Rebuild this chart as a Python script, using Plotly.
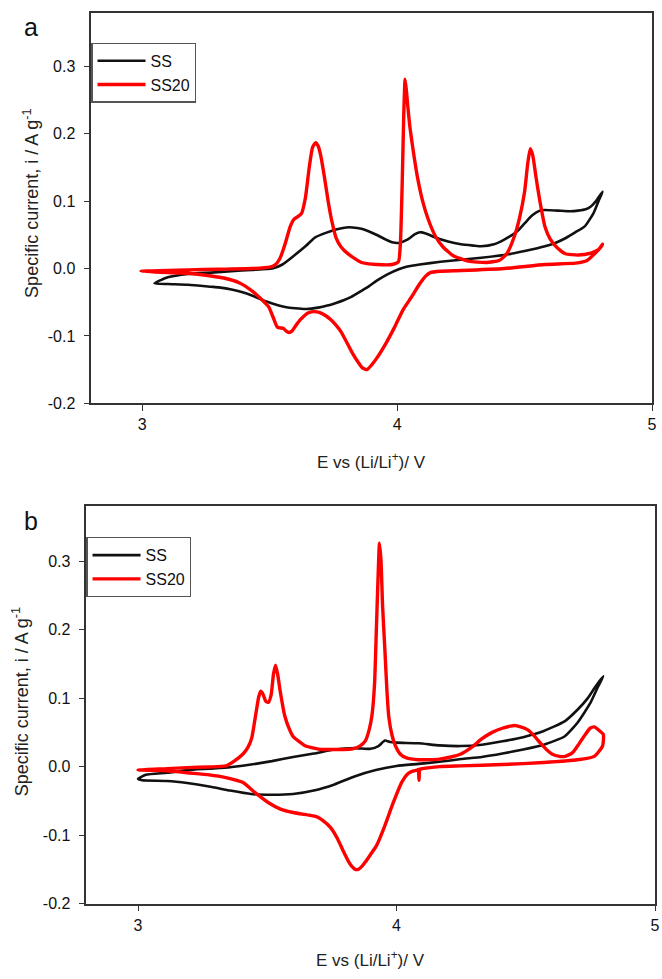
import plotly.graph_objects as go

# ---------------- Panel a : cyclic voltammograms ----------------
# SS, anodic sweep (3.0 -> 4.8 V)
a_ss_up_E = [3.048, 3.10, 3.18, 3.27, 3.35, 3.43, 3.51, 3.55, 3.595, 3.64, 3.677, 3.72, 3.76, 3.80,
             3.825, 3.86, 3.89, 3.925, 3.956, 3.98, 4.006, 4.04, 4.07, 4.09, 4.12, 4.15, 4.20, 4.25,
             4.30, 4.33, 4.38, 4.42, 4.47, 4.50, 4.53, 4.56, 4.58, 4.63, 4.68, 4.71, 4.74, 4.76, 4.78, 4.806]
a_ss_up_i = [-0.022, -0.013, -0.008, -0.006, -0.004, -0.002, 0.000, 0.006, 0.019, 0.033, 0.046, 0.053,
             0.058, 0.061, 0.061, 0.059, 0.055, 0.049, 0.043, 0.039, 0.038, 0.043, 0.051, 0.054, 0.051,
             0.046, 0.040, 0.036, 0.034, 0.033, 0.036, 0.043, 0.055, 0.067, 0.079, 0.086, 0.087, 0.086,
             0.085, 0.086, 0.088, 0.092, 0.100, 0.114]
# SS, cathodic sweep (4.8 -> 3.0 V)
a_ss_down_E = [4.79, 4.77, 4.737, 4.70, 4.66, 4.62, 4.58, 4.50, 4.42, 4.33, 4.25, 4.17, 4.088, 4.04,
               4.006, 3.96, 3.92, 3.89, 3.86, 3.82, 3.79, 3.76, 3.726, 3.69, 3.644, 3.60, 3.56, 3.52,
               3.496, 3.46, 3.43, 3.39, 3.35, 3.30, 3.27, 3.18, 3.10, 3.048]
a_ss_down_i = [0.100, 0.082, 0.063, 0.054, 0.045, 0.038, 0.033, 0.026, 0.020, 0.016, 0.013, 0.010,
               0.006, 0.003, -0.001, -0.009, -0.018, -0.026, -0.033, -0.042, -0.047, -0.051, -0.055,
               -0.058, -0.060, -0.059, -0.057, -0.053, -0.050, -0.045, -0.040, -0.035, -0.031, -0.028,
               -0.027, -0.024, -0.023, -0.022]

# SS20, anodic sweep
a_ss20_up_E = [2.995, 3.10, 3.18, 3.30, 3.43, 3.50, 3.52, 3.54, 3.56, 3.58, 3.595, 3.61, 3.625, 3.64,
               3.655, 3.668, 3.68, 3.69, 3.70, 3.715, 3.73, 3.745, 3.76, 3.78, 3.81, 3.86, 3.92, 3.98,
               4.005, 4.013, 4.02, 4.026, 4.031, 4.036, 4.042, 4.05, 4.063, 4.08, 4.10, 4.12, 4.15, 4.18,
               4.22, 4.28, 4.35, 4.40, 4.43, 4.46, 4.48, 4.50, 4.512, 4.522, 4.532, 4.545, 4.56, 4.58,
               4.60, 4.63, 4.66, 4.71, 4.76, 4.79, 4.806]
a_ss20_up_i = [-0.004, -0.003, -0.002, -0.001, 0.000, 0.002, 0.005, 0.015, 0.036, 0.062, 0.073, 0.077,
               0.082, 0.105, 0.150, 0.180, 0.187, 0.182, 0.168, 0.135, 0.098, 0.068, 0.046, 0.032,
               0.021, 0.009, 0.006, 0.006, 0.010, 0.040, 0.130, 0.230, 0.281, 0.265, 0.240, 0.210,
               0.175, 0.135, 0.100, 0.075, 0.048, 0.032, 0.019, 0.011, 0.009, 0.012, 0.022, 0.048,
               0.075, 0.114, 0.155, 0.178, 0.168, 0.135, 0.100, 0.062, 0.044, 0.030, 0.022, 0.020,
               0.023, 0.028, 0.036]
# SS20, cathodic sweep
a_ss20_down_E = [4.795, 4.78, 4.745, 4.70, 4.58, 4.42, 4.25, 4.17, 4.13, 4.11, 4.088, 4.055, 4.022,
                 3.99, 3.956, 3.92, 3.90, 3.882, 3.865, 3.845, 3.825, 3.80, 3.78, 3.76, 3.74, 3.72,
                 3.694, 3.67, 3.65, 3.636, 3.62, 3.60, 3.587, 3.575, 3.565, 3.554, 3.53, 3.513, 3.496,
                 3.46, 3.43, 3.38, 3.32, 3.27, 3.18, 3.10, 2.995]
a_ss20_down_i = [0.030, 0.024, 0.012, 0.008, 0.006, 0.000, -0.003, -0.004, -0.006, -0.012, -0.023,
                 -0.043, -0.062, -0.087, -0.111, -0.133, -0.143, -0.150, -0.148, -0.138, -0.126,
                 -0.108, -0.094, -0.084, -0.076, -0.070, -0.065, -0.064, -0.066, -0.070, -0.076,
                 -0.086, -0.093, -0.095, -0.093, -0.089, -0.087, -0.072, -0.057, -0.043, -0.033,
                 -0.021, -0.014, -0.011, -0.007, -0.006, -0.004]

# ---------------- Panel b : cyclic voltammograms ----------------
b_ss_up_E = [3.0, 3.03, 3.113, 3.19, 3.275, 3.356, 3.437, 3.518, 3.60, 3.68, 3.76, 3.84, 3.90, 3.93,
             3.955, 3.975, 4.0, 4.085, 4.166, 4.247, 4.33, 4.41, 4.49, 4.57, 4.65, 4.70, 4.74, 4.77, 4.80]
b_ss_up_i = [-0.018, -0.012, -0.009, -0.005, -0.003, -0.001, 0.003, 0.008, 0.014, 0.019, 0.025, 0.027,
             0.026, 0.030, 0.038, 0.036, 0.035, 0.034, 0.031, 0.030, 0.032, 0.037, 0.043, 0.052, 0.066,
             0.083, 0.100, 0.117, 0.132]
b_ss_down_E = [4.78, 4.75, 4.70, 4.65, 4.57, 4.49, 4.41, 4.33, 4.25, 4.166, 4.085, 4.0, 3.92, 3.84,
               3.76, 3.68, 3.60, 3.518, 3.437, 3.356, 3.275, 3.19, 3.113, 3.016, 3.0]
b_ss_down_i = [0.117, 0.093, 0.064, 0.044, 0.032, 0.025, 0.019, 0.014, 0.011, 0.007, 0.004, 0.001,
               -0.005, -0.014, -0.026, -0.035, -0.040, -0.041, -0.040, -0.035, -0.029, -0.024, -0.021,
               -0.020, -0.018]

b_ss20_up_E = [3.0, 3.113, 3.19, 3.275, 3.34, 3.372, 3.405, 3.425, 3.44, 3.457, 3.467, 3.475, 3.483,
               3.495, 3.505, 3.515, 3.524, 3.532, 3.54, 3.55, 3.567, 3.585, 3.60, 3.625, 3.648, 3.68,
               3.71, 3.75, 3.793, 3.83, 3.858, 3.88, 3.895, 3.905, 3.915, 3.922, 3.928, 3.934, 3.94,
               3.946, 3.955, 3.963, 3.97, 3.983, 3.996, 4.015, 4.036, 4.085, 4.166, 4.21, 4.247, 4.29,
               4.328, 4.37, 4.409, 4.44, 4.457, 4.48, 4.506, 4.53, 4.555, 4.58, 4.603, 4.63, 4.652,
               4.68, 4.70, 4.725, 4.749, 4.765, 4.78, 4.80]
b_ss20_up_i = [-0.005, -0.003, -0.0015, -0.0005, 0.001, 0.008, 0.018, 0.028, 0.042, 0.080, 0.102,
               0.110, 0.106, 0.095, 0.094, 0.105, 0.135, 0.148, 0.135, 0.110, 0.075, 0.055, 0.044,
               0.036, 0.030, 0.027, 0.025, 0.025, 0.025, 0.026, 0.030, 0.038, 0.055, 0.075, 0.121,
               0.200, 0.270, 0.326, 0.300, 0.235, 0.170, 0.110, 0.073, 0.045, 0.030, 0.018, 0.013,
               0.010, 0.011, 0.014, 0.018, 0.028, 0.040, 0.050, 0.056, 0.059, 0.060, 0.058, 0.054,
               0.046, 0.035, 0.025, 0.018, 0.015, 0.015, 0.020, 0.030, 0.044, 0.056, 0.058, 0.054, 0.047]
b_ss20_down_E = [4.797, 4.765, 4.70, 4.57, 4.41, 4.247, 4.166, 4.10, 4.09, 4.087, 4.084, 4.08, 4.06,
                 4.045, 4.02, 3.988, 3.955, 3.923, 3.90, 3.88, 3.865, 3.852, 3.84, 3.828, 3.815, 3.80,
                 3.785, 3.77, 3.745, 3.713, 3.69, 3.664, 3.6, 3.551, 3.502, 3.453, 3.405, 3.34, 3.275,
                 3.19, 3.113, 3.0]
b_ss20_down_i = [0.030, 0.015, 0.010, 0.006, 0.003, 0.001, 0.000, -0.003, -0.004, -0.020, -0.004,
                 -0.005, -0.007, -0.010, -0.023, -0.052, -0.086, -0.115, -0.128, -0.139, -0.146,
                 -0.150, -0.150, -0.146, -0.139, -0.128, -0.116, -0.104, -0.089, -0.078, -0.073,
                 -0.071, -0.067, -0.062, -0.052, -0.038, -0.023, -0.016, -0.012, -0.009, -0.006, -0.005]

# Axis ticks
x_tick_vals = [3, 4, 5]
x_tick_text = ["3", "4", "5"]
y_tick_vals = [-0.2, -0.1, 0.0, 0.1, 0.2, 0.3]
y_tick_text = ["-0.2", "-0.1", "0.0", "0.1", "0.2", "0.3"]

FONT = "Liberation Sans, Arial, sans-serif"
W, H = 662, 979
SS_COLOR = "#111111"
SS20_COLOR = "#ff0000"


def px_x(p):
    return p / W


def px_y(p):
    return (H - p) / H


fig = go.Figure()

panels = [
    ("x", "y", "legend", a_ss_up_E + a_ss_down_E, a_ss_up_i + a_ss_down_i,
     a_ss20_up_E + a_ss20_down_E, a_ss20_up_i + a_ss20_down_i),
    ("x2", "y2", "legend2", b_ss_up_E + b_ss_down_E, b_ss_up_i + b_ss_down_i,
     b_ss20_up_E + b_ss20_down_E, b_ss20_up_i + b_ss20_down_i),
]
for xa, ya, lg, ssE, ssI, s20E, s20I in panels:
    fig.add_trace(go.Scatter(x=ssE, y=ssI, mode="lines", name="SS", xaxis=xa, yaxis=ya, legend=lg,
                             line=dict(color=SS_COLOR, width=2.6, shape="spline", smoothing=0.5)))
    fig.add_trace(go.Scatter(x=s20E, y=s20I, mode="lines", name="SS20", xaxis=xa, yaxis=ya, legend=lg,
                             line=dict(color=SS20_COLOR, width=3.4, shape="spline", smoothing=0.5)))

axis_common = dict(showgrid=False, zeroline=False, showline=True, mirror=True,
                   linecolor="#333333", linewidth=1.5, ticks="outside", ticklen=6,
                   tickwidth=1.2, tickcolor="#333333",
                   tickfont=dict(family=FONT, size=16, color="#111111"))

legend_common = dict(xanchor="left", yanchor="top", bgcolor="white", bordercolor="#555555",
                     borderwidth=1.2, itemwidth=48,
                     font=dict(family=FONT, size=16, color="#111111"))

fig.update_layout(
    width=W, height=H,
    margin=dict(l=0, r=0, t=0, b=0),
    paper_bgcolor="white", plot_bgcolor="white",
    xaxis=dict(domain=[px_x(92), px_x(657)], range=[2.8, 5.0], anchor="y",
               tickvals=x_tick_vals, ticktext=x_tick_text, **axis_common),
    yaxis=dict(domain=[px_y(407), px_y(12.7)], range=[-0.2, 0.38], anchor="x",
               tickvals=y_tick_vals, ticktext=y_tick_text, ticklabelstandoff=5, **axis_common),
    xaxis2=dict(domain=[px_x(87), px_x(660)], range=[2.8, 5.0], anchor="y2",
                tickvals=x_tick_vals, ticktext=x_tick_text, **axis_common),
    yaxis2=dict(domain=[px_y(912), px_y(511)], range=[-0.2, 0.38], anchor="x2",
                tickvals=y_tick_vals, ticktext=y_tick_text, ticklabelstandoff=5, **axis_common),
    legend=dict(x=px_x(92), y=px_y(43), **legend_common),
    legend2=dict(x=px_x(87), y=px_y(542), **legend_common),
)

ytitle = "Specific current, i / A g<sup>-1</sup>"
xtitle = "E vs (Li/Li<sup>+</sup>)/ V"
xtitle_font = dict(family=FONT, size=17, color="#222222")
ytitle_font = dict(family=FONT, size=18, color="#222222")
annos = [
    # panel a
    dict(text="a", x=px_x(31), y=px_y(27), font=dict(family=FONT, size=25, color="#111111")),
    dict(text=ytitle, x=px_x(31), y=px_y(205), textangle=-90, font=ytitle_font),
    dict(text=xtitle, x=px_x(374), y=px_y(465), font=xtitle_font),
    # panel b
    dict(text="b", x=px_x(31), y=px_y(526), font=dict(family=FONT, size=25, color="#111111")),
    dict(text=ytitle, x=px_x(21), y=px_y(708), textangle=-90, font=ytitle_font),
    dict(text=xtitle, x=px_x(373), y=px_y(968), font=xtitle_font),
]
for a in annos:
    fig.add_annotation(xref="paper", yref="paper", showarrow=False,
                       xanchor="center", yanchor="middle", **a)

fig.write_html("out.html")
